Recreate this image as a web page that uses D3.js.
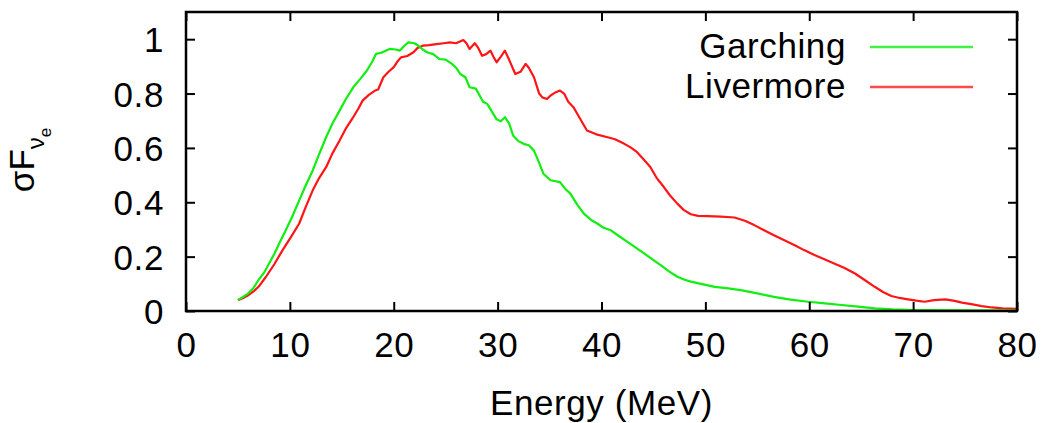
<!DOCTYPE html>
<html><head><meta charset="utf-8">
<script src="https://cdn.jsdelivr.net/npm/d3@7"></script>
<style>
html,body{margin:0;padding:0;background:#fff;}
text{font-family:"Liberation Sans",Arial,sans-serif;fill:#000;}
</style></head>
<body>
<svg id="chart" width="1044" height="423"></svg>
<script>
const xTicks = [0,10,20,30,40,50,60,70,80];
const yTicks = [0,0.2,0.4,0.6,0.8,1];
const yTickLabels = ["0","0.2","0.4","0.6","0.8","1"];
const seriesNames = ["Garching","Livermore"];
const seriesColors = ["#11ee11","#ff1515"];
const legendColors = ["#44f044","#ff4a4a"];

const garchingE = [5.0,5.5,6.0,6.5,7.0,7.5,8.0,8.5,9.0,9.6,10.2,10.9,11.5,12.2,12.8,13.5,14.1,14.8,15.4,16.1,16.8,17.4,17.9,18.3,18.8,19.6,20.2,20.6,21.0,21.4,22.0,22.4,22.8,23.2,23.8,24.4,25.0,25.6,26.0,26.4,26.9,27.3,27.9,28.6,29.0,29.9,30.3,30.7,31.1,31.5,32.0,32.5,33.0,33.5,34.0,34.4,35.1,36.0,36.5,37.0,37.6,38.3,39.0,39.6,40.2,40.9,41.7,42.5,43.3,44.1,44.9,45.7,46.5,47.3,48.0,48.6,49.8,50.9,52.2,53.4,55.0,56.6,58.2,59.9,61.5,63.1,64.7,66.3,68.0,69.5,72.0,76.0,80.0];
const garchingV = [0.040,0.052,0.065,0.085,0.115,0.140,0.175,0.210,0.250,0.297,0.345,0.407,0.460,0.517,0.575,0.640,0.690,0.738,0.780,0.823,0.855,0.884,0.915,0.946,0.950,0.964,0.962,0.958,0.975,0.988,0.985,0.975,0.962,0.952,0.945,0.927,0.925,0.909,0.895,0.872,0.860,0.823,0.818,0.770,0.762,0.705,0.698,0.713,0.690,0.645,0.625,0.615,0.610,0.590,0.545,0.505,0.481,0.474,0.450,0.432,0.395,0.358,0.335,0.322,0.306,0.297,0.275,0.254,0.233,0.212,0.190,0.169,0.146,0.126,0.115,0.108,0.098,0.089,0.083,0.077,0.065,0.052,0.042,0.034,0.028,0.022,0.016,0.010,0.006,0.004,0.003,0.002,0.002];

const livermoreE = [5.0,5.5,6.0,6.5,7.0,7.7,8.5,9.3,10.1,10.9,11.5,12.2,12.8,13.5,14.1,14.8,15.4,16.1,16.6,17.0,17.6,18.2,18.5,19.0,19.5,20.0,20.4,20.7,21.3,21.9,22.3,22.8,23.4,24.1,24.8,25.4,26.0,26.7,27.0,27.3,27.8,28.1,28.5,28.9,29.3,29.6,29.9,30.3,30.7,31.1,31.7,32.2,32.7,33.0,33.5,34.0,34.3,34.75,35.1,35.6,36.0,36.4,36.8,37.3,37.9,38.6,39.5,40.5,41.3,42.2,42.8,43.4,44.0,44.7,45.3,46.0,46.6,47.3,47.9,48.6,49.3,50.2,51.5,52.8,53.8,54.7,55.6,56.6,57.6,58.6,59.5,60.5,61.4,62.4,63.4,64.4,65.3,66.3,67.1,67.9,68.7,69.5,70.3,71.1,72.0,73.1,74.0,74.7,75.6,76.6,77.6,78.6,80.0];
const livermoreV = [0.040,0.048,0.058,0.072,0.090,0.126,0.172,0.224,0.272,0.322,0.380,0.444,0.488,0.530,0.580,0.628,0.672,0.713,0.745,0.774,0.795,0.811,0.815,0.860,0.880,0.897,0.920,0.933,0.938,0.952,0.968,0.976,0.978,0.982,0.985,0.988,0.985,0.997,0.985,0.964,0.985,0.970,0.939,0.945,0.958,0.935,0.915,0.935,0.958,0.925,0.872,0.880,0.909,0.895,0.860,0.800,0.786,0.780,0.793,0.805,0.811,0.800,0.770,0.750,0.710,0.664,0.650,0.640,0.632,0.615,0.602,0.585,0.560,0.530,0.490,0.456,0.425,0.395,0.372,0.356,0.350,0.349,0.347,0.344,0.332,0.316,0.298,0.279,0.260,0.242,0.224,0.206,0.191,0.175,0.158,0.138,0.115,0.089,0.070,0.055,0.048,0.043,0.038,0.034,0.040,0.043,0.037,0.031,0.025,0.018,0.013,0.010,0.008];

const svg = d3.select("#chart");
const L = 186, R = 1017, T = 12, B = 311;
const x = d3.scaleLinear().domain([0,80]).range([L,R]);
const y = d3.scaleLinear().domain([0,1.1]).range([B,T]);
const FS = 35;
const LS = "0.6px";

const series = [
  d3.zip(garchingE, garchingV),
  d3.zip(livermoreE, livermoreV)
];
const line = d3.line().x(d=>x(d[0])).y(d=>y(d[1]));
[1,0].forEach(i=>{
  svg.append("path").attr("d", line(series[i]))
    .attr("fill","none").attr("stroke",seriesColors[i])
    .attr("stroke-width",2.2).attr("stroke-linejoin","round");
});

const tl = 9;
const gB = svg.append("g").attr("transform",`translate(0,${B})`)
  .call(d3.axisBottom(x).tickValues(xTicks).tickSize(-tl).tickFormat(d3.format("d")));
const gT = svg.append("g").attr("transform",`translate(0,${T})`)
  .call(d3.axisTop(x).tickValues(xTicks).tickSize(-tl).tickFormat(""));
const gL = svg.append("g").attr("transform",`translate(${L},0)`)
  .call(d3.axisLeft(y).tickValues(yTicks).tickSize(-tl).tickPadding(tl+13).tickFormat((d,i)=>yTickLabels[i]));
const gR = svg.append("g").attr("transform",`translate(${R},0)`)
  .call(d3.axisRight(y).tickValues(yTicks).tickSize(-tl).tickFormat(""));
[gB,gT,gL,gR].forEach(g=>{
  g.select(".domain").remove();
  g.selectAll(".tick line").attr("stroke","#000").attr("stroke-width",2);
  g.selectAll("text").attr("font-size",FS).attr("letter-spacing",LS)
    .attr("font-family","'Liberation Sans',Arial,sans-serif").attr("fill","#000");
});
gB.selectAll("text").attr("dy",null).attr("y",46);
gL.selectAll("text").attr("dy","0.36em");

svg.append("rect").attr("x",L).attr("y",T).attr("width",R-L).attr("height",B-T)
  .attr("fill","none").attr("stroke","#000").attr("stroke-width",2.5);

svg.append("text").attr("x",(L+R)/2).attr("y",415).attr("text-anchor","middle")
  .attr("font-size",FS).attr("letter-spacing",LS).text("Energy (MeV)");

const yl = svg.append("text").attr("transform","translate(34,160) rotate(-90)")
  .attr("text-anchor","middle").attr("font-size",FS);
yl.append("tspan").text("σF");
yl.append("tspan").attr("font-size",24).attr("dy",10).text("ν");
yl.append("tspan").attr("font-size",17).attr("dy",7).text("e");

const legY = [47, 87];
seriesNames.forEach((n,i)=>{
  svg.append("text").attr("x",846).attr("y",legY[i]+11).attr("text-anchor","end")
    .attr("font-size",FS).attr("letter-spacing",LS).text(n);
  svg.append("line").attr("x1",870).attr("x2",973).attr("y1",legY[i]).attr("y2",legY[i])
    .attr("stroke",legendColors[i]).attr("stroke-width",2.5);
});
</script>
</body></html>
